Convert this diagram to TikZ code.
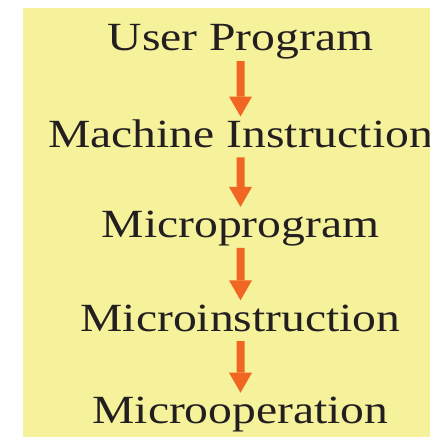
\documentclass[tikz,border=0pt]{standalone}
\usepackage{fontspec}
\setmainfont{Liberation Serif}
\usetikzlibrary{positioning,arrows.meta}
\definecolor{padyellow}{RGB}{246,242,155}
\definecolor{flowred}{RGB}{241,102,35}
\definecolor{inkgray}{RGB}{35,31,32}

\begin{document}
\begin{tikzpicture}[x=1pt, y=1pt,
	level/.style={inner sep=0pt, text height=26.5pt, text depth=0pt, text=inkgray, font=\fontsize{40}{40}\selectfont, xscale=1.19, transform shape},
	flow/.style={draw=flowred, line width=8pt, shorten <=10pt, shorten >=4pt,
		-{Triangle[width=23pt, length=20pt, line width=0pt, fill=flowred]}}]
	\useasboundingbox (0,0) rectangle (430,-437);
	\fill[padyellow] (23,-8) rectangle (430,-437);
	\node[level, anchor=south] (user) at (240.5,-51) {User Program};
	\node[level, below=69.5pt of user] (machine) {Machine Instruction};
	\node[level, below=63.5pt of machine] (mprog) {Microprogram};
	\node[level, below=66.5pt of mprog] (minstr) {Microinstruction};
	\node[level, below=65.5pt of minstr] (mop) {Microoperation};
	\path[flow] (user) -- (machine);
	\path[flow] (machine) -- (mprog);
	\path[flow] (mprog) -- (minstr);
	\path[flow] (minstr) -- (mop);
\end{tikzpicture}
\end{document}
